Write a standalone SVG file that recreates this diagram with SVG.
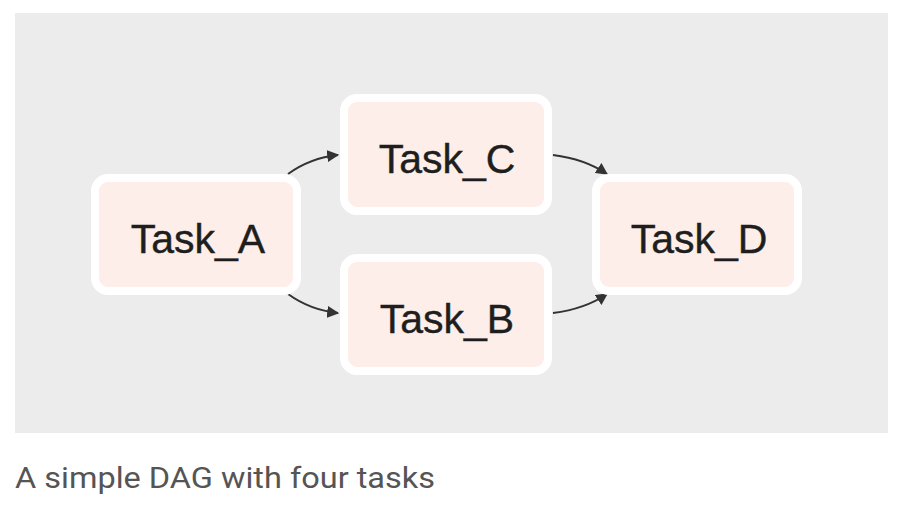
<svg xmlns="http://www.w3.org/2000/svg" width="908" height="512" viewBox="0 0 908 512">
<defs>
<style>
.node rect{fill:#fdeee9;stroke:#ffffff;stroke-width:8}
.node text{font-family:"Liberation Sans",Arial,sans-serif;font-size:41px;fill:#1e1e1e;stroke:#1e1e1e;stroke-width:0.4;text-anchor:middle}
.edge{fill:none;stroke:#333;stroke-width:2}
.cap{font-family:Roboto,"Liberation Sans",sans-serif;font-size:30px;fill:#555}
</style>
<marker id="ah" viewBox="0 0 10 10" refX="9" refY="5" markerWidth="6" markerHeight="6" orient="auto" markerUnits="strokeWidth">
<path d="M0,0 L10,5 L0,10 z" fill="#333"/>
</marker>
</defs>
<rect x="15" y="13" width="873" height="420" fill="#ececec"/>
<g id="connectors">
<path class="edge" d="M288,174 Q310,158 338,155" marker-end="url(#ah)"/>
<path class="edge" d="M288,294 Q310,310 338,313" marker-end="url(#ah)"/>
<path class="edge" d="M553,155 Q585,159 607,174" marker-end="url(#ah)"/>
<path class="edge" d="M553,313 Q585,309 607,294" marker-end="url(#ah)"/>
</g>
<g id="task_a" class="node"><rect x="95" y="178" width="202" height="113" rx="13"/><text x="198" y="253">Task_A</text></g>
<g id="task_c" class="node"><rect x="344" y="98" width="204" height="113" rx="13"/><text x="447" y="173">Task_C</text></g>
<g id="task_b" class="node"><rect x="344" y="258" width="204" height="113" rx="13"/><text x="447" y="333">Task_B</text></g>
<g id="task_d" class="node"><rect x="596" y="178" width="202" height="113" rx="13"/><text x="699" y="253">Task_D</text></g>
<text class="cap" x="15" y="488" textLength="420" lengthAdjust="spacingAndGlyphs">A simple DAG with four tasks</text>
</svg>
